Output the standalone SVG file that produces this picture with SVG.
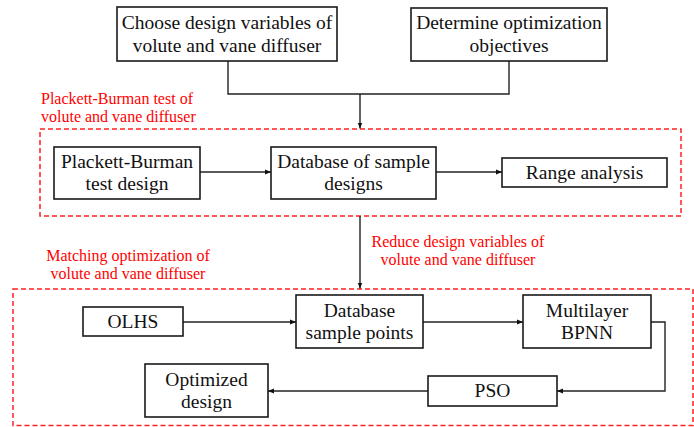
<svg xmlns="http://www.w3.org/2000/svg" width="694" height="427" viewBox="0 0 694 427" font-family="'Liberation Serif', serif">
  <defs>
    <marker id="arrow" viewBox="0 0 8 8" refX="8" refY="4" markerWidth="6" markerHeight="6" orient="auto" markerUnits="userSpaceOnUse">
      <path d="M0,0.8 L8,4 L0,7.2 z" fill="#111"/>
    </marker>
    <style>
      .box { fill: #ffffff; stroke: #1a1a1a; stroke-width: 1.6; }
      .t { font-family: 'Liberation Serif', serif; font-size: 19.5px; fill: #111; text-anchor: middle; }
      .r { font-family: 'Liberation Serif', serif; font-size: 16px; fill: #ff0000; }
      .rc { text-anchor: middle; }
      .frame { fill: none; stroke: #ff2020; stroke-width: 1.5; stroke-dasharray: 5 3; }
      .conn { fill: none; stroke: #222; stroke-width: 1.4; }
      .arr { marker-end: url(#arrow); }
    </style>
  </defs>

  <!-- dashed stage frames -->
  <rect class="frame" x="40" y="129" width="641" height="87"/>
  <rect class="frame" x="13" y="289" width="680" height="136.5"/>

  <!-- stage labels -->
  <g id="label-pb">
    <text class="r" x="41" y="104">Plackett-Burman test of</text>
    <text class="r" x="41" y="122">volute and vane diffuser</text>
  </g>
  <g id="label-matching">
    <text class="r rc" x="128" y="261">Matching optimization of</text>
    <text class="r rc" x="128" y="279">volute and vane diffuser</text>
  </g>
  <g id="label-reduce">
    <text class="r rc" x="458" y="247">Reduce design variables of</text>
    <text class="r rc" x="458" y="265">volute and vane diffuser</text>
  </g>

  <!-- connectors -->
  <g id="connectors">
    <path class="conn" d="M228,61 V94 H509 V61"/>
    <path class="conn arr" d="M360,94 V128.5"/>
    <path class="conn arr" d="M200,172 H271"/>
    <path class="conn arr" d="M436,172 H502"/>
    <path class="conn arr" d="M360,216 V288.5"/>
    <path class="conn arr" d="M183,322 H296"/>
    <path class="conn arr" d="M423,322 H523"/>
    <path class="conn arr" d="M651,322 H665 V391 H557"/>
    <path class="conn arr" d="M428,391 H268"/>
  </g>

  <!-- nodes -->
  <g id="nodes">
    <g id="choose-variables">
      <rect class="box" x="117" y="7" width="220" height="54"/>
      <text class="t" x="227" y="29">Choose design variables of</text>
      <text class="t" x="227" y="52">volute and vane diffuser</text>
    </g>
    <g id="objectives">
      <rect class="box" x="411" y="8" width="196" height="53"/>
      <text class="t" x="509" y="29">Determine optimization</text>
      <text class="t" x="509" y="52">objectives</text>
    </g>
    <g id="pb-design">
      <rect class="box" x="54" y="147" width="146" height="52"/>
      <text class="t" x="127" y="168">Plackett-Burman</text>
      <text class="t" x="127" y="190">test design</text>
    </g>
    <g id="sample-db">
      <rect class="box" x="271" y="147" width="165" height="52"/>
      <text class="t" x="353.5" y="168">Database of sample</text>
      <text class="t" x="353.5" y="190">designs</text>
    </g>
    <g id="range-analysis">
      <rect class="box" x="502" y="158" width="165" height="29"/>
      <text class="t" x="584.5" y="179">Range analysis</text>
    </g>
    <g id="olhs">
      <rect class="box" x="83" y="307" width="100" height="29"/>
      <text class="t" x="133" y="328">OLHS</text>
    </g>
    <g id="sample-points">
      <rect class="box" x="296" y="295" width="127" height="53"/>
      <text class="t" x="359.5" y="317">Database</text>
      <text class="t" x="359.5" y="339">sample points</text>
    </g>
    <g id="bpnn">
      <rect class="box" x="523" y="295" width="128" height="53"/>
      <text class="t" x="587" y="317">Multilayer</text>
      <text class="t" x="587" y="339">BPNN</text>
    </g>
    <g id="pso">
      <rect class="box" x="428" y="376" width="129" height="30"/>
      <text class="t" x="492.5" y="397">PSO</text>
    </g>
    <g id="optimized-design">
      <rect class="box" x="145" y="364" width="123" height="53"/>
      <text class="t" x="206.5" y="386">Optimized</text>
      <text class="t" x="206.5" y="408">design</text>
    </g>
  </g>
</svg>
